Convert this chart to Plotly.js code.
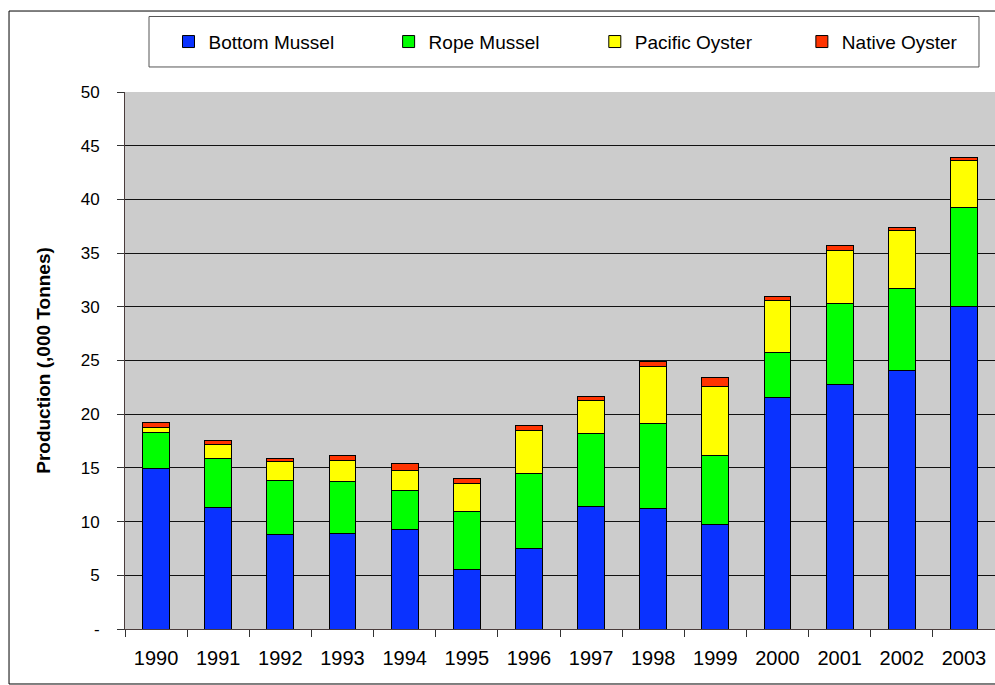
<!DOCTYPE html>
<html>
<head>
<meta charset="utf-8">
<script src="https://cdn.plot.ly/plotly-3.0.1.min.js"></script>
<style>
  html, body { margin: 0; padding: 0; background: #ffffff; }
  #chart { width: 995px; height: 685px; }
</style>
</head>
<body>
<div id="chart"></div>
<script>
const years = ['1990','1991','1992','1993','1994','1995','1996','1997','1998','1999','2000','2001','2002','2003'];
const bottomMussel  = [14.93, 11.27, 8.78, 8.91, 9.25, 5.56, 7.54, 11.42, 11.24, 9.71, 21.54, 22.78, 24.03, 30.03];
const ropeMussel    = [3.38, 4.56, 5.06, 4.78, 3.69, 5.36, 6.96, 6.74, 7.85, 6.46, 4.17, 7.57, 7.69, 9.25];
const pacificOyster = [0.47, 1.39, 1.71, 2.02, 1.84, 2.64, 4.00, 3.07, 5.37, 6.43, 4.92, 4.88, 5.38, 4.32];
const nativeOyster  = [0.47, 0.35, 0.34, 0.46, 0.65, 0.47, 0.47, 0.46, 0.49, 0.80, 0.37, 0.50, 0.31, 0.28];
const yTickVals = [0, 5, 10, 15, 20, 25, 30, 35, 40, 45, 50];
const yTickText = ['-', '5', '10', '15', '20', '25', '30', '35', '40', '45', '50'];
const seriesNames = ['Bottom Mussel', 'Rope Mussel', 'Pacific Oyster', 'Native Oyster'];
const seriesColors = ['#0A32FF', '#00FF00', '#FFFF00', '#FF3300'];
const seriesValues = [bottomMussel, ropeMussel, pacificOyster, nativeOyster];

const legendIds = ['legend', 'legend2', 'legend3', 'legend4'];
const legendX = [0.0500, 0.3030, 0.5400, 0.7780];

const traces = seriesValues.map((vals, i) => ({
  type: 'bar',
  x: years,
  y: vals,
  name: seriesNames[i],
  legend: legendIds[i],
  marker: { color: seriesColors[i], line: { color: '#000000', width: 1 } }
}));

const font = 'Liberation Sans, Arial, sans-serif';

const layout = {
  width: 995,
  height: 685,
  margin: { l: 125, r: 0, t: 92, b: 56, autoexpand: false },
  paper_bgcolor: '#ffffff',
  plot_bgcolor: '#CCCCCC',
  barmode: 'stack',
  bargap: 0.566,
  showlegend: true,
  xaxis: {
    type: 'category',
    tickson: 'boundaries',
    ticks: 'outside',
    ticklen: 7,
    tickcolor: '#333333',
    showline: true,
    linecolor: '#4a3c3c',
    linewidth: 1,
    showgrid: false,
    ticklabelstandoff: 11,
    tickfont: { family: font, size: 20, color: '#000000' }
  },
  yaxis: {
    range: [0, 50],
    tickvals: yTickVals,
    ticktext: yTickText,
    ticks: 'outside',
    ticklen: 7,
    tickcolor: '#333333',
    showline: true,
    linecolor: '#4a3c3c',
    linewidth: 1,
    showgrid: true,
    gridcolor: '#111111',
    gridwidth: 1,
    zeroline: false,
    ticklabelstandoff: 14,
    tickfont: { family: font, size: 17, color: '#000000' },
    title: {
      text: 'Production (,000 Tonnes)',
      font: { family: font, size: 19, color: '#000000', weight: 'bold' },
      standoff: 25
    }
  },
  shapes: [
    { type: 'rect', xref: 'paper', yref: 'paper',
      x0: -0.1333, x1: 1.01, y0: -0.1024, y1: 1.1508,
      line: { color: '#000000', width: 1 }, fillcolor: 'rgba(0,0,0,0)', layer: 'below' },
    { type: 'rect', xref: 'paper', yref: 'paper',
      x0: 0.0276, x1: 0.9816, y0: 1.0466, y1: 1.1406,
      line: { color: '#555555', width: 1 }, fillcolor: '#ffffff', layer: 'below' }
  ]
};

legendIds.forEach((id, i) => {
  layout[id] = {
    orientation: 'h',
    x: legendX[i], xanchor: 'left',
    y: 1.0937, yanchor: 'middle',
    bgcolor: 'rgba(0,0,0,0)',
    borderwidth: 0,
    font: { family: font, size: 19, color: '#000000' }
  };
});

Plotly.newPlot('chart', traces, layout, { displayModeBar: false, staticPlot: true });
</script>
</body>
</html>
